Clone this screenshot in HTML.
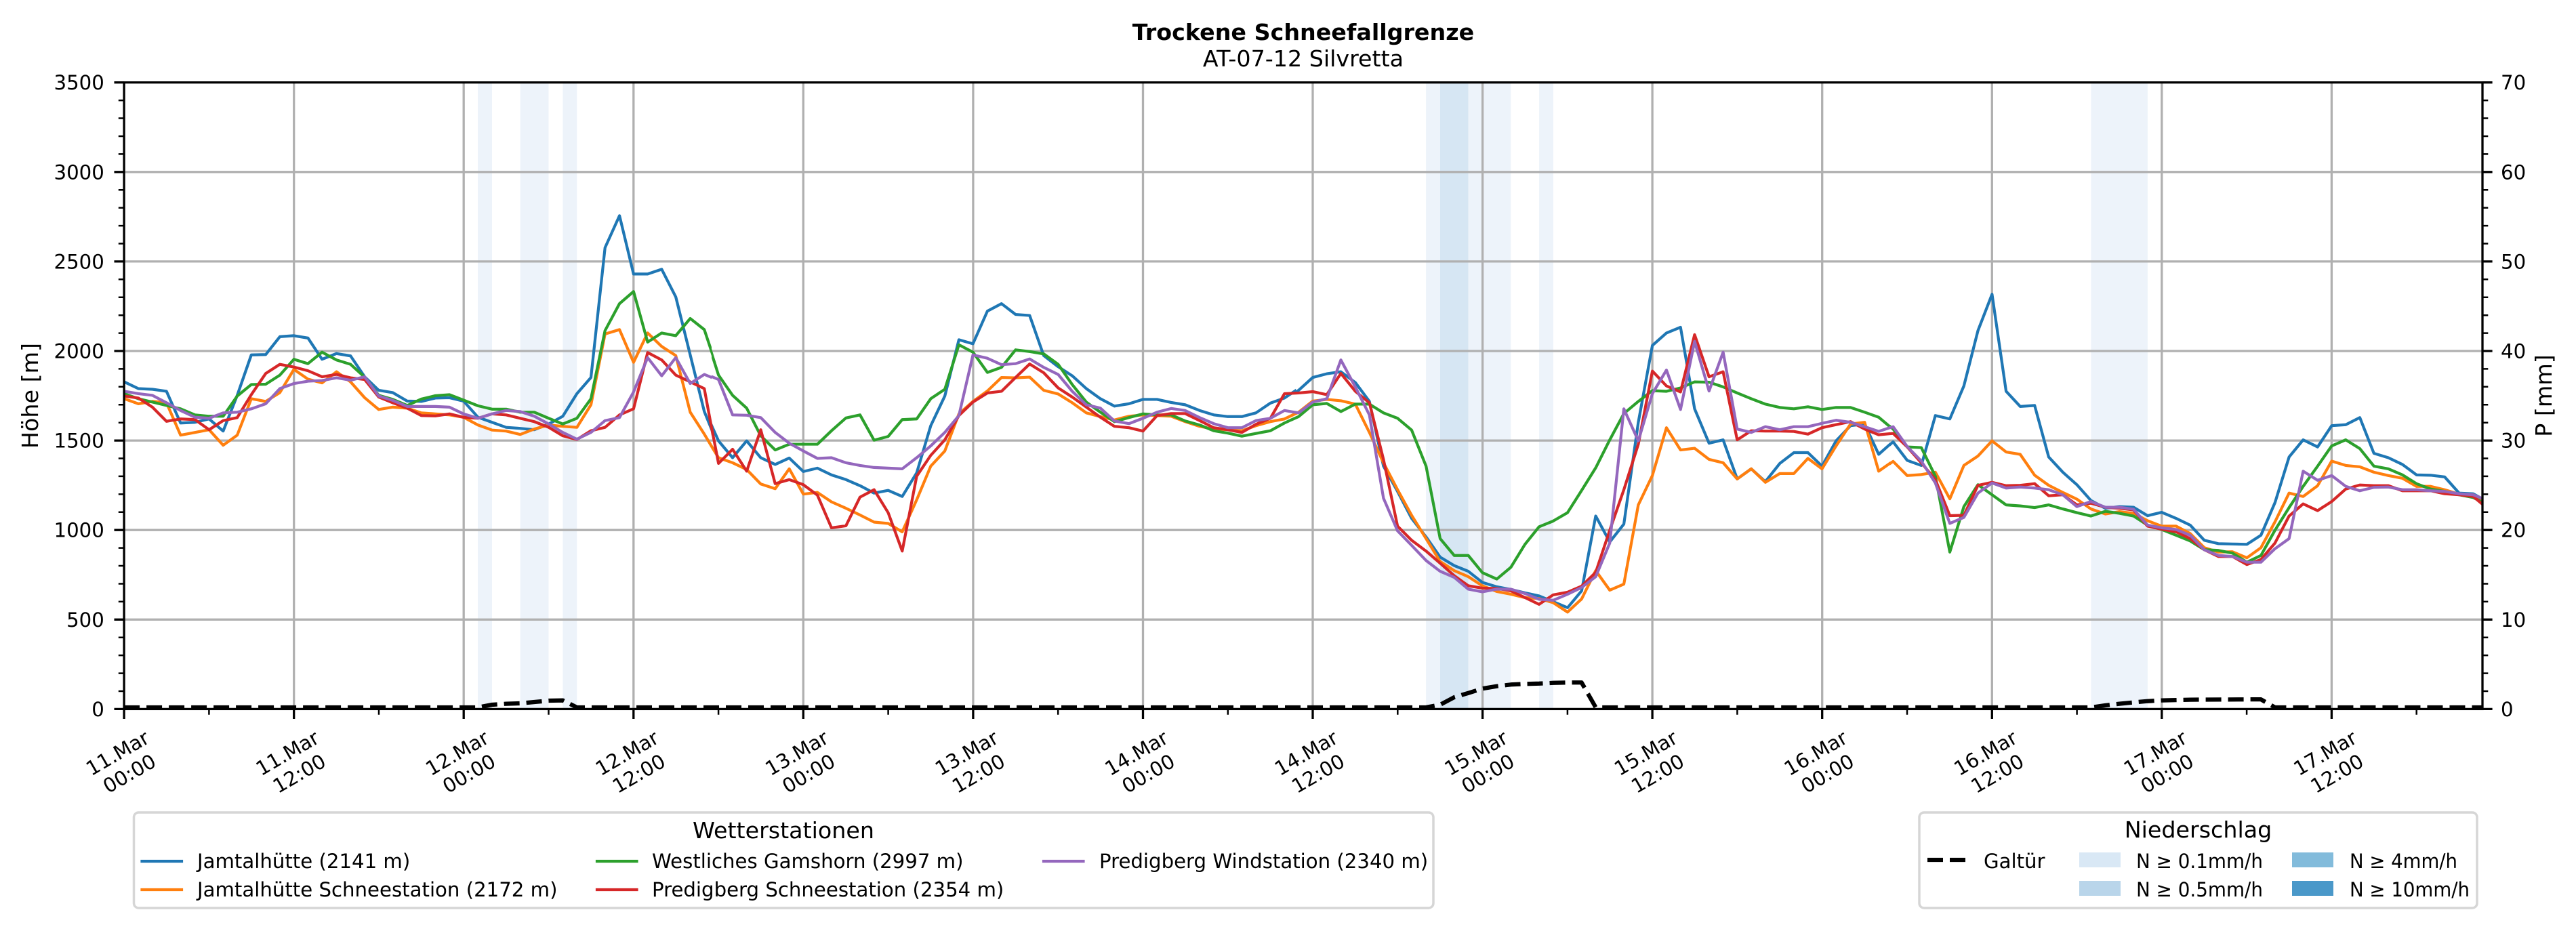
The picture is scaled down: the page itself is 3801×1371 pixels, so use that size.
<!DOCTYPE html>
<html><head><meta charset="utf-8"><style>html,body{margin:0;padding:0;background:#fff}svg{display:block}text{font-family:"DejaVu Sans","Liberation Sans",sans-serif;fill:#000}</style></head>
<body>
<svg width="3801" height="1371" viewBox="0 0 3801 1371" xmlns="http://www.w3.org/2000/svg">
<rect x="0" y="0" width="3801" height="1371" fill="#fff"/>
<defs>
<clipPath id="cA"><rect x="183.1" y="121.7" width="866.9" height="924.7"/></clipPath>
<clipPath id="cB"><rect x="1050" y="121.7" width="862" height="924.7"/></clipPath>
<clipPath id="cC"><rect x="1912" y="121.7" width="877" height="924.7"/></clipPath>
<clipPath id="cD"><rect x="2789" y="121.7" width="874" height="924.7"/></clipPath>
<clipPath id="cP"><rect x="183.1" y="121.7" width="3479.9" height="924.7"/></clipPath>
</defs>

<!-- precipitation bands -->
<g>
<rect x="705.1" y="121.7" width="20.9" height="924.7" fill="#edf3fa"/>
<rect x="767.7" y="121.7" width="41.8" height="924.7" fill="#edf3fa"/>
<rect x="830.4" y="121.7" width="20.9" height="924.7" fill="#edf3fa"/>
<rect x="2104.1" y="121.7" width="20.9" height="924.7" fill="#edf3fa"/>
<rect x="2125" y="121.7" width="41.7" height="924.7" fill="#d6e6f3"/>
<rect x="2166.7" y="121.7" width="62.6" height="924.7" fill="#edf3fa"/>
<rect x="2271.1" y="121.7" width="20.9" height="924.7" fill="#edf3fa"/>
<rect x="3085.4" y="121.7" width="83.5" height="924.7" fill="#edf3fa"/>
</g>

<!-- grid -->
<path d="M433.7 121.7V1046.4M684.2 121.7V1046.4M934.8 121.7V1046.4M1185.3 121.7V1046.4M1435.9 121.7V1046.4M1686.5 121.7V1046.4M1937 121.7V1046.4M2187.6 121.7V1046.4M2438.1 121.7V1046.4M2688.7 121.7V1046.4M2939.3 121.7V1046.4M3189.8 121.7V1046.4M3440.4 121.7V1046.4M183.1 914.3H3663M183.1 782.2H3663M183.1 650.1H3663M183.1 518H3663M183.1 385.9H3663M183.1 253.8H3663" stroke="#b0b0b0" stroke-width="3.3" fill="none"/>

<!-- series A -->
<g clip-path="url(#cA)"><g transform="translate(180,280) scale(0.56122,0.49745)" fill="none" stroke-width="4.2" stroke-linejoin="round">
<polyline vector-effect="non-scaling-stroke" stroke="#1f77b4" points="6,570 43,590 80,592 117,598 154,692 192,690 229,680 266,716 303,610 340,490 378,489 415,436 452,433 489,440 526,503 564,486 601,493 638,555 675,595 712,602 750,627 787,628 824,618 861,617 898,627 936,675 973,690 1010,705 1047,708 1084,712 1122,695 1159,672 1196,605 1233,557 1270,172 1308,77 1345,250 1382,250 1419,236 1456,318 1494,490 1531,658 1568,760"/>
<polyline vector-effect="non-scaling-stroke" stroke="#ff7f0e" points="6,620 43,635 80,628 117,632 154,728 192,720 229,712 266,758 303,728 340,620 378,628 415,602 452,533 489,562 526,573 564,540 601,570 638,617 675,652 712,645 750,648 787,662 824,665 861,668 898,675 936,698 973,713 1010,716 1047,726 1084,710 1122,698 1159,702 1196,705 1233,638 1270,428 1308,415 1345,512 1382,425 1419,465 1456,492 1494,660 1531,725 1568,795"/>
<polyline vector-effect="non-scaling-stroke" stroke="#2ca02c" points="6,605 43,620 80,630 117,640 154,650 192,668 229,672 266,672 303,612 340,578 378,577 415,550 452,503 489,516 526,482 564,505 601,518 638,556 675,610 712,622 750,640 787,621 824,611 861,608 898,624 936,641 973,651 1010,651 1047,660 1084,660 1122,678 1159,695 1196,678 1233,620 1270,418 1308,338 1345,302 1382,452 1419,425 1456,433 1494,382 1531,415 1568,540"/>
<polyline vector-effect="non-scaling-stroke" stroke="#d62728" points="6,612 43,618 80,645 117,687 154,680 192,682 229,712 266,685 303,676 340,608 378,545 415,518 452,526 489,537 526,555 564,548 601,558 638,563 675,615 712,632 750,648 787,670 824,671 861,665 898,675 936,678 973,665 1010,668 1047,678 1084,688 1122,705 1159,730 1196,741 1233,715 1270,705 1308,668 1345,650 1382,483 1419,505 1456,550 1494,570 1531,590 1568,815"/>
<polyline vector-effect="non-scaling-stroke" stroke="#9467bd" points="6,598 43,605 80,610 117,632 154,655 192,675 229,678 266,662 303,660 340,650 378,635 415,590 452,575 489,568 526,566 564,558 601,565 638,555 675,612 712,625 750,643 787,643 824,643 861,645 898,665 936,678 973,665 1010,655 1047,658 1084,672 1122,695 1159,720 1196,740 1233,720 1270,685 1308,676 1345,600 1382,498 1419,552 1456,498 1494,575 1531,548 1568,565"/>
</g></g>

<!-- series B -->
<g clip-path="url(#cB)"><g transform="translate(1040,280) scale(0.56122,0.49745)" fill="none" stroke-width="4.2" stroke-linejoin="round">
<polyline vector-effect="non-scaling-stroke" stroke="#1f77b4" points="-2,650 36,745 73,795 110,745 147,795 185,815 222,796 259,836 296,826 333,846 371,860 408,878 445,900 482,892 519,910 557,840 594,700 631,612 668,445 705,457 743,360 780,338 817,370 854,373 891,492 929,525 966,552 1003,590 1040,620 1077,642 1115,635 1152,622 1189,622 1226,631 1263,638 1301,655 1338,668 1375,673 1412,673 1449,662 1487,633 1524,618 1561,590"/>
<polyline vector-effect="non-scaling-stroke" stroke="#ff7f0e" points="-2,725 36,795 73,810 110,830 147,873 185,887 222,828 259,903 296,898 333,926 371,945 408,965 445,986 482,990 519,1015 557,920 594,820 631,775 668,665 705,628 743,597 780,557 817,558 854,556 891,595 929,606 966,632 1003,662 1040,673 1077,683 1115,672 1152,668 1189,670 1226,672 1263,688 1301,702 1338,710 1375,712 1412,715 1449,700 1487,688 1524,680 1561,660"/>
<polyline vector-effect="non-scaling-stroke" stroke="#2ca02c" points="-2,415 36,550 73,610 110,648 147,730 185,772 222,755 259,755 296,755 333,715 371,677 408,668 445,743 482,732 519,682 557,680 594,620 631,592 668,460 705,482 743,542 780,527 817,475 854,480 891,487 929,518 966,578 1003,630 1040,660 1077,688 1115,676 1152,665 1189,668 1226,668 1263,686 1301,698 1338,715 1375,722 1412,731 1449,723 1487,715 1524,692 1561,673"/>
<polyline vector-effect="non-scaling-stroke" stroke="#d62728" points="-2,590 36,812 73,770 110,835 147,712 185,872 222,860 259,875 296,906 333,1003 371,997 408,912 445,890 482,958 519,1072 557,850 594,788 631,742 668,670 705,630 743,603 780,598 817,557 854,517 891,543 929,588 966,615 1003,645 1040,675 1077,702 1115,706 1152,716 1189,670 1226,664 1263,664 1301,685 1338,706 1375,712 1412,720 1449,696 1487,678 1524,605 1561,603"/>
<polyline vector-effect="non-scaling-stroke" stroke="#9467bd" points="-2,545 36,563 73,668 110,669 147,676 185,720 222,752 259,775 296,797 333,795 371,810 408,818 445,824 482,826 519,828 557,795 594,760 631,720 668,670 705,490 743,500 780,519 817,516 854,502 891,527 929,548 966,598 1003,638 1040,648 1077,686 1115,694 1152,678 1189,660 1226,649 1263,655 1301,676 1338,694 1375,706 1412,706 1449,685 1487,678 1524,655 1561,662"/>
</g></g>

<!-- series C -->
<g clip-path="url(#cC)"><g transform="translate(1905,280) scale(0.56122,0.49745)" fill="none" stroke-width="4.2" stroke-linejoin="round">
<polyline vector-effect="non-scaling-stroke" stroke="#1f77b4" points="-18,618 20,595 57,557 94,546 131,540 169,572 206,628 243,820 280,895 317,975 355,1030 392,1090 429,1115 466,1132 503,1165 541,1178 578,1186 615,1196 652,1205 689,1222 727,1240 764,1190 801,968 838,1045 875,992 913,690 950,462 987,425 1024,408 1061,650 1099,752 1136,742 1173,858 1210,828 1247,866 1285,812 1322,780 1359,780 1396,820 1433,745 1471,700 1508,695 1545,785 1582,748"/>
<polyline vector-effect="non-scaling-stroke" stroke="#ff7f0e" points="-18,680 20,660 57,627 94,622 131,626 169,636 206,720 243,810 280,890 317,966 355,1035 392,1103 429,1130 466,1148 503,1175 541,1192 578,1200 615,1210 652,1213 689,1225 727,1253 764,1214 801,1130 838,1188 875,1170 913,935 950,848 987,706 1024,772 1061,767 1099,800 1136,810 1173,858 1210,828 1247,868 1285,842 1322,842 1359,797 1396,828 1433,760 1471,695 1508,690 1545,835 1582,806"/>
<polyline vector-effect="non-scaling-stroke" stroke="#2ca02c" points="-18,692 20,673 57,638 94,634 131,658 169,636 206,636 243,662 280,678 317,713 355,820 392,1035 429,1085 466,1085 503,1136 541,1155 578,1120 615,1052 652,1000 689,983 727,958 764,892 801,825 838,742 875,664 913,628 950,596 987,598 1024,588 1061,570 1099,571 1136,585 1173,603 1210,620 1247,636 1285,646 1322,650 1359,644 1396,652 1433,646 1471,646 1508,660 1545,675 1582,710"/>
<polyline vector-effect="non-scaling-stroke" stroke="#d62728" points="-18,605 20,603 57,599 94,608 131,545 169,598 206,632 243,800 280,998 317,1040 355,1072 392,1108 429,1145 466,1175 503,1182 541,1183 578,1190 615,1210 652,1230 689,1202 727,1194 764,1176 801,1135 838,1010 875,890 913,755 950,538 987,582 1024,600 1061,430 1099,555 1136,540 1173,742 1210,715 1247,716 1285,716 1322,717 1359,725 1396,706 1433,697 1471,688 1508,710 1545,727 1582,723"/>
<polyline vector-effect="non-scaling-stroke" stroke="#9467bd" points="-18,655 20,662 57,630 94,620 131,505 169,585 206,668 243,915 280,1012 317,1055 355,1100 392,1132 429,1150 466,1185 503,1193 541,1185 578,1185 615,1198 652,1215 689,1218 727,1200 764,1180 801,1148 838,1048 875,650 913,745 950,605 987,535 1024,652 1061,450 1099,597 1136,482 1173,710 1210,720 1247,703 1285,712 1322,703 1359,703 1396,693 1433,684 1471,690 1508,703 1545,717 1582,703"/>
</g></g>

<!-- series D -->
<g clip-path="url(#cD)"><g transform="translate(2785,280) scale(0.56122,0.49745)" fill="none" stroke-width="4.2" stroke-linejoin="round">
<polyline vector-effect="non-scaling-stroke" stroke="#1f77b4" points="-23,785 15,748 52,803 89,818 126,670 164,680 201,582 238,418 275,310 312,598 349,643 387,640 424,793 461,838 498,875 535,922 573,945 610,940 647,942 684,967 721,957 759,975 796,995 833,1040 870,1050 907,1051 945,1052 982,1025 1019,928 1056,793 1093,742 1131,763 1168,700 1205,697 1242,676 1279,782 1317,795 1354,815 1391,846 1428,847 1465,852 1503,900 1540,902 1577,925"/>
<polyline vector-effect="non-scaling-stroke" stroke="#ff7f0e" points="-23,835 15,806 52,848 89,845 126,838 164,917 201,818 238,790 275,745 312,778 349,785 387,847 424,877 461,898 498,918 535,947 573,962 610,955 647,960 684,982 721,998 759,998 796,1020 833,1062 870,1075 907,1074 945,1092 982,1062 1019,985 1056,900 1093,910 1131,878 1168,805 1205,818 1242,822 1279,838 1317,848 1354,856 1391,880 1428,880 1465,890 1503,903 1540,905 1577,930"/>
<polyline vector-effect="non-scaling-stroke" stroke="#2ca02c" points="-23,675 15,710 52,763 89,765 126,850 164,1075 201,940 238,875 275,905 312,935 349,938 387,943 424,935 461,947 498,958 535,968 573,954 610,960 647,968 684,995 721,1008 759,1025 796,1042 833,1068 870,1070 907,1078 945,1105 982,1085 1019,1010 1056,943 1093,880 1131,820 1168,760 1205,742 1242,768 1279,820 1317,828 1354,846 1391,872 1428,888 1465,895 1503,905 1540,913 1577,935"/>
<polyline vector-effect="non-scaling-stroke" stroke="#d62728" points="-23,727 15,723 52,763 89,810 126,860 164,967 201,966 238,877 275,868 312,878 349,877 387,872 424,908 461,905 498,935 535,930 573,942 610,945 647,950 684,998 721,1007 759,1015 796,1035 833,1068 870,1088 907,1088 945,1112 982,1097 1019,1048 1056,968 1093,932 1131,952 1168,925 1205,888 1242,876 1279,878 1317,878 1354,893 1391,893 1428,893 1465,902 1503,905 1540,910 1577,945"/>
<polyline vector-effect="non-scaling-stroke" stroke="#9467bd" points="-23,717 15,703 52,762 89,805 126,870 164,990 201,972 238,900 275,870 312,885 349,882 387,885 424,890 461,905 498,940 535,925 573,942 610,942 647,948 684,995 721,1003 759,1008 796,1025 833,1068 870,1085 907,1088 945,1105 982,1105 1019,1065 1056,1035 1093,835 1131,862 1168,848 1205,880 1242,893 1279,883 1317,882 1354,890 1391,890 1428,893 1465,895 1503,902 1540,905 1577,922"/>
</g></g>

<!-- Galtür -->
<g clip-path="url(#cP)">
<polyline fill="none" stroke="#000" stroke-width="6.25" stroke-dasharray="23 10" stroke-linejoin="round" points="183.1,1044 705.1,1044 726,1040 746.9,1038.6 767.7,1038 788.6,1036 809.5,1034 830.4,1033.6 851.3,1044 2104.1,1044 2125,1040 2145.8,1029 2166.7,1022.7 2187.6,1016.2 2208.5,1012.7 2229.3,1010.3 2250.2,1009.3 2271.1,1008.8 2292,1007.8 2312.9,1007.3 2333.7,1007.3 2354.6,1044 3085.4,1044 3106.3,1041 3127.2,1038.6 3148,1036.6 3168.9,1034.7 3189.8,1033.6 3210.7,1033.1 3231.6,1032.6 3336,1032.1 3356.9,1044 3670,1044"/>
</g>

<!-- spines -->
<rect x="183.1" y="121.7" width="3479.9" height="924.7" fill="none" stroke="#000" stroke-width="3.3"/>

<!-- ticks -->
<path d="M168.5 1046.4H183.1M168.5 914.3H183.1M168.5 782.2H183.1M168.5 650.1H183.1M168.5 518H183.1M168.5 385.9H183.1M168.5 253.8H183.1M168.5 121.7H183.1M3663 1046.4H3677.6M3663 914.3H3677.6M3663 782.2H3677.6M3663 650.1H3677.6M3663 518H3677.6M3663 385.9H3677.6M3663 253.8H3677.6M3663 121.7H3677.6M183.1 1046.4V1061M433.7 1046.4V1061M684.2 1046.4V1061M934.8 1046.4V1061M1185.3 1046.4V1061M1435.9 1046.4V1061M1686.5 1046.4V1061M1937 1046.4V1061M2187.6 1046.4V1061M2438.1 1046.4V1061M2688.7 1046.4V1061M2939.3 1046.4V1061M3189.8 1046.4V1061M3440.4 1046.4V1061" stroke="#000" stroke-width="3.3" fill="none"/>
<path d="M174.8 1020H183.1M174.8 993.6H183.1M174.8 967.1H183.1M174.8 940.7H183.1M174.8 887.9H183.1M174.8 861.5H183.1M174.8 835H183.1M174.8 808.6H183.1M174.8 755.8H183.1M174.8 729.4H183.1M174.8 702.9H183.1M174.8 676.5H183.1M174.8 623.7H183.1M174.8 597.3H183.1M174.8 570.8H183.1M174.8 544.4H183.1M174.8 491.6H183.1M174.8 465.2H183.1M174.8 438.7H183.1M174.8 412.3H183.1M174.8 359.5H183.1M174.8 333.1H183.1M174.8 306.6H183.1M174.8 280.2H183.1M174.8 227.4H183.1M174.8 201H183.1M174.8 174.5H183.1M174.8 148.1H183.1
M3663 1020H3671.3M3663 993.6H3671.3M3663 967.1H3671.3M3663 940.7H3671.3M3663 887.9H3671.3M3663 861.5H3671.3M3663 835H3671.3M3663 808.6H3671.3M3663 755.8H3671.3M3663 729.4H3671.3M3663 702.9H3671.3M3663 676.5H3671.3M3663 623.7H3671.3M3663 597.3H3671.3M3663 570.8H3671.3M3663 544.4H3671.3M3663 491.6H3671.3M3663 465.2H3671.3M3663 438.7H3671.3M3663 412.3H3671.3M3663 359.5H3671.3M3663 333.1H3671.3M3663 306.6H3671.3M3663 280.2H3671.3M3663 227.4H3671.3M3663 201H3671.3M3663 174.5H3671.3M3663 148.1H3671.3
M308.4 1046.4V1054.7M559 1046.4V1054.7M809.5 1046.4V1054.7M1060.1 1046.4V1054.7M1310.6 1046.4V1054.7M1561.2 1046.4V1054.7M1811.8 1046.4V1054.7M2062.3 1046.4V1054.7M2312.9 1046.4V1054.7M2563.4 1046.4V1054.7M2814 1046.4V1054.7M3064.6 1046.4V1054.7M3315.1 1046.4V1054.7M3565.7 1046.4V1054.7" stroke="#000" stroke-width="2.5" fill="none"/>

<!-- left tick labels -->
<g font-size="29.2" text-anchor="end">
<text x="153.8" y="1056.9">0</text>
<text x="153.8" y="924.8">500</text>
<text x="153.8" y="792.7">1000</text>
<text x="153.8" y="660.6">1500</text>
<text x="153.8" y="528.5">2000</text>
<text x="153.8" y="396.4">2500</text>
<text x="153.8" y="264.3">3000</text>
<text x="153.8" y="132.2">3500</text>
</g>
<!-- right tick labels -->
<g font-size="29.2" text-anchor="start">
<text x="3690" y="1056.9">0</text>
<text x="3690" y="924.8">10</text>
<text x="3690" y="792.7">20</text>
<text x="3690" y="660.6">30</text>
<text x="3690" y="528.5">40</text>
<text x="3690" y="396.4">50</text>
<text x="3690" y="264.3">60</text>
<text x="3690" y="132.2">70</text>
</g>

<!-- axis labels -->
<text transform="translate(56,584) rotate(-90)" font-size="33.3" text-anchor="middle">Höhe [m]</text>
<text transform="translate(3765,584) rotate(-90)" font-size="33.3" text-anchor="middle">P [mm]</text>

<!-- x tick labels -->
<g font-size="29.2" text-anchor="middle">
<g transform="translate(183.1,1128) rotate(-30)"><text y="-9">11.Mar</text><text y="26">00:00</text></g>
<g transform="translate(433.7,1128) rotate(-30)"><text y="-9">11.Mar</text><text y="26">12:00</text></g>
<g transform="translate(684.2,1128) rotate(-30)"><text y="-9">12.Mar</text><text y="26">00:00</text></g>
<g transform="translate(934.8,1128) rotate(-30)"><text y="-9">12.Mar</text><text y="26">12:00</text></g>
<g transform="translate(1185.3,1128) rotate(-30)"><text y="-9">13.Mar</text><text y="26">00:00</text></g>
<g transform="translate(1435.9,1128) rotate(-30)"><text y="-9">13.Mar</text><text y="26">12:00</text></g>
<g transform="translate(1686.5,1128) rotate(-30)"><text y="-9">14.Mar</text><text y="26">00:00</text></g>
<g transform="translate(1937,1128) rotate(-30)"><text y="-9">14.Mar</text><text y="26">12:00</text></g>
<g transform="translate(2187.6,1128) rotate(-30)"><text y="-9">15.Mar</text><text y="26">00:00</text></g>
<g transform="translate(2438.1,1128) rotate(-30)"><text y="-9">15.Mar</text><text y="26">12:00</text></g>
<g transform="translate(2688.7,1128) rotate(-30)"><text y="-9">16.Mar</text><text y="26">00:00</text></g>
<g transform="translate(2939.3,1128) rotate(-30)"><text y="-9">16.Mar</text><text y="26">12:00</text></g>
<g transform="translate(3189.8,1128) rotate(-30)"><text y="-9">17.Mar</text><text y="26">00:00</text></g>
<g transform="translate(3440.4,1128) rotate(-30)"><text y="-9">17.Mar</text><text y="26">12:00</text></g>
</g>

<!-- title -->
<text x="1923" y="59" font-size="33.3" font-weight="bold" text-anchor="middle">Trockene Schneefallgrenze</text>
<text x="1923" y="98" font-size="33.3" text-anchor="middle">AT-07-12 Silvretta</text>

<!-- legend: Wetterstationen -->
<rect x="197.5" y="1199" width="1917.5" height="141" rx="7" ry="7" fill="#fff" stroke="#d6d6d6" stroke-width="3.5"/>
<text x="1156" y="1237" font-size="33.3" text-anchor="middle">Wetterstationen</text>
<g stroke-width="4.2" stroke-linecap="square">
<line x1="209.5" y1="1271" x2="268" y2="1271" stroke="#1f77b4"/>
<line x1="209.5" y1="1313" x2="268" y2="1313" stroke="#ff7f0e"/>
<line x1="881" y1="1271" x2="939.5" y2="1271" stroke="#2ca02c"/>
<line x1="881" y1="1313" x2="939.5" y2="1313" stroke="#d62728"/>
<line x1="1540" y1="1271" x2="1598.5" y2="1271" stroke="#9467bd"/>
</g>
<g font-size="29.2">
<text x="291" y="1281">Jamtalhütte (2141 m)</text>
<text x="291" y="1323">Jamtalhütte Schneestation (2172 m)</text>
<text x="962" y="1281">Westliches Gamshorn (2997 m)</text>
<text x="962" y="1323">Predigberg Schneestation (2354 m)</text>
<text x="1622" y="1281">Predigberg Windstation (2340 m)</text>
</g>

<!-- legend: Niederschlag -->
<rect x="2832" y="1199" width="823" height="141" rx="7" ry="7" fill="#fff" stroke="#d6d6d6" stroke-width="3.5"/>
<text x="3243.5" y="1236" font-size="33.3" text-anchor="middle">Niederschlag</text>
<line x1="2844" y1="1269" x2="2902" y2="1269" stroke="#000" stroke-width="6.25" stroke-dasharray="23 10"/>
<rect x="3068" y="1258" width="61" height="22" fill="#d9e8f5"/>
<rect x="3068" y="1300" width="61" height="22" fill="#b9d5ea"/>
<rect x="3382" y="1258" width="61" height="22" fill="#82bbdb"/>
<rect x="3382" y="1300" width="61" height="22" fill="#4a98c9"/>
<g font-size="29.2">
<text x="2927" y="1281">Galtür</text>
<text x="3152" y="1281" textLength="187" lengthAdjust="spacingAndGlyphs">N ≥ 0.1mm/h</text>
<text x="3152" y="1323" textLength="187" lengthAdjust="spacingAndGlyphs">N ≥ 0.5mm/h</text>
<text x="3467" y="1281" textLength="159" lengthAdjust="spacingAndGlyphs">N ≥ 4mm/h</text>
<text x="3467" y="1323" textLength="177" lengthAdjust="spacingAndGlyphs">N ≥ 10mm/h</text>
</g>
</svg>
</body></html>
